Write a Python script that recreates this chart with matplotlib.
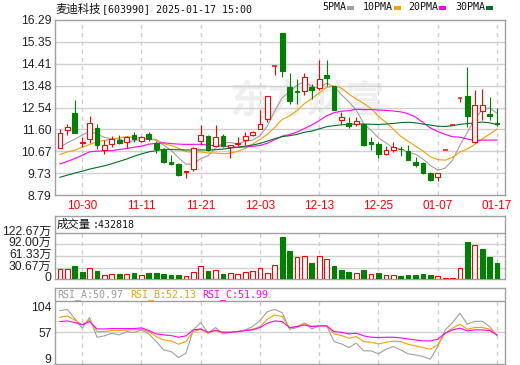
import matplotlib
matplotlib.use('Agg')
import matplotlib.pyplot as plt
import numpy as np
import pandas as pd
from matplotlib.patches import Rectangle
from matplotlib.transforms import ScaledTranslation

# ---------------- data ----------------
stock_name = '麦迪科技'
stock_info = '[603990] 2025-01-17 15:00'
dates = ['2024-10-25', '2024-10-28', '2024-10-29', '2024-10-30', '2024-10-31',
         '2024-11-01', '2024-11-04', '2024-11-05', '2024-11-06', '2024-11-07',
         '2024-11-08', '2024-11-11', '2024-11-12', '2024-11-13', '2024-11-14',
         '2024-11-15', '2024-11-18', '2024-11-19', '2024-11-20', '2024-11-21',
         '2024-11-22', '2024-11-25', '2024-11-26', '2024-11-27', '2024-11-28',
         '2024-11-29', '2024-12-02', '2024-12-03', '2024-12-04', '2024-12-05',
         '2024-12-06', '2024-12-09', '2024-12-10', '2024-12-11', '2024-12-12',
         '2024-12-13', '2024-12-16', '2024-12-17', '2024-12-18', '2024-12-19',
         '2024-12-20', '2024-12-23', '2024-12-24', '2024-12-25', '2024-12-26',
         '2024-12-27', '2024-12-30', '2024-12-31', '2025-01-02', '2025-01-03',
         '2025-01-06', '2025-01-07', '2025-01-08', '2025-01-09', '2025-01-10',
         '2025-01-13', '2025-01-14', '2025-01-15', '2025-01-16', '2025-01-17']
opens = [10.81, 11.59, 12.29, 11.01, 11.20, 11.65, 10.74, 10.97, 11.16, 11.05,
         11.34, 11.11, 11.39, 11.00, 10.78, 10.22, 10.10, 9.76, 9.89, 11.11,
         11.34, 10.90, 11.30, 10.84, 10.98, 11.16, 11.37, 11.63, 12.06, 14.32,
         15.75, 13.42, 13.26, 13.23, 13.42, 13.36, 13.94, 13.45, 12.02, 11.89,
         11.85, 11.85, 11.08, 10.97, 10.53, 10.71, 10.78, 10.68, 10.22, 10.17,
         9.74, 9.55, 10.71, 11.78, 12.96, 13.02, 11.07, 12.41, 12.25, 11.89]
highs = [11.60, 11.85, 12.86, 11.27, 12.19, 11.85, 11.13, 11.33, 11.37, 11.30,
         11.47, 11.33, 11.50, 11.11, 10.80, 10.52, 10.18, 9.81, 10.84, 11.78,
         11.37, 11.78, 11.39, 10.95, 11.26, 11.47, 11.53, 12.42, 13.02, 14.32,
         15.75, 14.03, 13.78, 14.03, 13.55, 14.56, 14.56, 13.48, 12.34, 12.13,
         12.13, 11.85, 11.27, 11.08, 10.87, 11.07, 10.90, 10.93, 10.42, 10.20,
         9.77, 9.74, 10.71, 11.78, 12.96, 14.26, 13.30, 13.33, 12.99, 12.51]
lows = [10.81, 11.36, 11.44, 10.85, 11.04, 10.75, 10.54, 10.84, 10.97, 10.81,
        11.07, 11.08, 11.10, 10.59, 10.15, 10.06, 9.60, 9.51, 9.80, 10.95,
        10.67, 10.90, 10.84, 10.36, 10.87, 10.92, 11.33, 11.63, 11.90, 13.93,
        13.86, 12.70, 12.68, 13.09, 12.90, 13.30, 13.48, 12.44, 11.82, 11.65,
        11.75, 10.90, 10.71, 10.38, 10.51, 10.64, 10.46, 10.28, 9.97, 9.70,
        9.37, 9.37, 10.71, 11.78, 12.77, 11.72, 11.00, 12.01, 12.01, 11.75]
closes = [11.46, 11.69, 11.46, 11.07, 11.89, 10.92, 10.94, 11.17, 11.04, 11.26,
          11.18, 11.29, 11.18, 10.78, 10.20, 10.10, 9.66, 9.81, 10.81, 11.37,
          10.71, 11.29, 10.88, 10.95, 11.04, 11.34, 11.50, 11.82, 13.02, 14.32,
          14.12, 12.80, 13.20, 13.84, 13.28, 13.77, 13.81, 12.44, 12.15, 11.75,
          11.98, 10.95, 10.97, 10.53, 10.71, 10.85, 10.75, 10.28, 10.06, 9.74,
          9.45, 9.74, 10.71, 11.78, 12.96, 12.18, 12.66, 12.63, 12.18, 11.82]
# volume in 万 (10k)
volumes_wan = [27.2, 27.2, 35.9, 20.1, 28.9, 21.9, 11.4, 13.1, 14.0, 14.0,
               17.5, 10.5, 17.5, 17.5, 14.0, 11.4, 11.4, 7.9, 19.3, 34.2,
               21.9, 23.7, 14.0, 16.6, 14.0, 20.1, 21.9, 30.7, 16.6, 36.8,
               111.3, 74.5, 57.8, 61.3, 43.8, 61.3, 52.6, 35.0, 24.5, 20.1,
               15.8, 24.5, 13.1, 17.5, 10.5, 10.5, 8.8, 11.4, 11.4, 14.0,
               11.4, 7.9, 2.6, 2.6, 28.9, 98.1, 90.2, 79.7, 58.7, 43.2818]
latest_volume = 432818

# moving-average values before each window is full
ma5_head = [10.84, 11.03, 11.18, 11.36]
ma10_head = [10.52, 10.64, 10.71, 10.84, 10.95, 11.07, 11.13, 11.18, 11.24]
ma20_head = [10.12, 10.23, 10.35, 10.49, 10.64, 10.67, 10.68, 10.69, 10.74, 10.78,
             10.84, 10.88, 10.97, 11.00, 11.03, 10.99, 10.97, 10.96, 10.96]
ma30_head = [9.55, 9.64, 9.73, 9.81, 9.90, 9.97, 10.04, 10.13, 10.23, 10.33,
             10.45, 10.55, 10.64, 10.69, 10.75, 10.74, 10.73, 10.72, 10.72, 10.72,
             10.72, 10.73, 10.76, 10.80, 10.84, 10.88, 10.93, 11.00, 11.10]

rsi_a = [96.8, 99.0, 82.0, 64.4, 84.0, 47.8, 50.3, 55.2, 52.1, 58.2,
         56.4, 61.3, 53.9, 39.8, 24.5, 21.4, 10.4, 18.4, 61.3, 74.8,
         55.2, 65.6, 53.9, 56.4, 58.2, 61.3, 67.4, 78.5, 95.0, 99.0,
         93.0, 62.5, 65.6, 73.6, 63.1, 68.6, 69.3, 39.8, 35.5, 28.8,
         36.8, 22.7, 22.7, 17.2, 25.7, 30.6, 24.5, 17.2, 15.3, 12.3,
         7.3, 30.6, 61.3, 74.8, 91.9, 71.7, 77.2, 77.2, 67.4, 50.97]
rsi_b = [84.6, 87.0, 79.5, 70.5, 79.7, 58.2, 58.2, 60.1, 60.1, 61.3,
         61.3, 62.5, 58.2, 49.0, 42.9, 41.1, 34.9, 39.8, 58.2, 62.5,
         55.2, 61.3, 57.0, 57.0, 58.2, 60.1, 62.5, 67.4, 80.9, 88.9,
         85.8, 64.4, 67.4, 73.6, 67.4, 69.3, 69.3, 53.9, 50.9, 46.0,
         49.0, 39.8, 38.6, 35.5, 38.6, 40.4, 39.8, 34.9, 31.9, 28.8,
         25.7, 33.7, 55.2, 64.4, 71.7, 62.5, 65.6, 65.6, 62.5, 52.13]
rsi_c = [76.6, 77.8, 74.8, 70.5, 76.6, 63.1, 63.1, 63.7, 63.7, 63.7,
         63.7, 65.0, 60.1, 53.9, 52.1, 50.9, 47.8, 50.3, 61.3, 63.1,
         57.0, 60.1, 57.0, 57.0, 58.2, 60.1, 61.3, 65.6, 73.6, 77.8,
         76.6, 65.6, 67.4, 70.5, 67.4, 68.6, 68.6, 58.2, 57.0, 53.9,
         55.2, 50.3, 47.8, 47.2, 47.8, 47.8, 46.6, 44.7, 42.9, 41.1,
         41.1, 44.1, 55.2, 61.3, 64.4, 59.5, 61.3, 61.3, 60.1, 51.99]

x_tick_dates = ['2024-10-30', '2024-11-11', '2024-11-21', '2024-12-03',
                '2024-12-13', '2024-12-25', '2025-01-07', '2025-01-17']
x_tick_labels = ['10-30', '11-11', '11-21', '12-03', '12-13', '12-25', '01-07', '01-17']
price_tick_labels = ['8.79', '9.73', '10.67', '11.60', '12.54', '13.48', '14.41', '15.35', '16.29']
vol_tick_values = [0, 30.67, 61.33, 92.00, 122.67]
vol_tick_labels = ['0', '30.67万', '61.33万', '92.00万', '122.67万']
rsi_tick_values = [9, 57, 104]
ma_names = ['5PMA', '10PMA', '20PMA', '30PMA']
rsi_names = ['RSI_A', 'RSI_B', 'RSI_C']

# ---------------- styling ----------------
RED = '#ff0000'
GREEN = '#008000'
MA_COLORS = ['#a0a0a0', '#f5a000', '#ff00ff', '#006f28']
RSI_COLORS = ['#a0a0a0', '#f5a000', '#ff00ff']
BORDER = '#a0a0a0'
GRID = '#d0d0d0'
TXT = '#222222'
LAT = 'Liberation Sans'
MONO = 'DejaVu Sans Mono'
CJK = 'Noto Sans CJK SC'
W, H = 520, 365
LW = 0.8

fig = plt.figure(figsize=(W / 100, H / 100), dpi=100)


def fx(px):
    return px / W


def fy(py):
    return 1 - py / H


L, R = 55, 505
ax1 = fig.add_axes([fx(L), fy(195), fx(R) - fx(L), fy(20) - fy(195)])
ax2 = fig.add_axes([fx(L), fy(279.3), fx(R) - fx(L), fy(216) - fy(279.3)])
ax3 = fig.add_axes([fx(L), fy(364), fx(R) - fx(L), fy(288.3) - fy(364)])

n = len(closes)
x = np.arange(n)
xlim = (-0.67, n - 1 + 1.08)
xt = [dates.index(d) for d in x_tick_dates]

for ax in (ax1, ax2, ax3):
    ax.set_xlim(*xlim)
    for s in ax.spines.values():
        s.set_color(BORDER)
        s.set_linewidth(1.0)
    ax.tick_params(length=0)

# ---------------- main price panel ----------------
price_ticks = [float(v) for v in price_tick_labels]
ax1.set_ylim(price_ticks[0], price_ticks[-1])
for v in price_ticks[1:-1]:
    ax1.axhline(v, color=GRID, lw=1.0, zorder=1)
for t in xt:
    ax1.axvline(t, color=GRID, lw=1.0, ls=(0, (3, 3)), zorder=1)
ax1.text(0.56, 0.53, '东方财富', transform=ax1.transAxes, fontsize=28,
         family=CJK, color='#efefef', ha='center', va='center', zorder=0.5,
         fontweight='bold')

bw = 0.64
for i in x:
    o, h, l, c = opens[i], highs[i], lows[i], closes[i]
    up = c >= o
    col = RED if up else GREEN
    ax1.vlines(i, l, h, color=col, lw=LW, zorder=3)
    if abs(c - o) < 1e-9:
        ax1.hlines(o, i - bw / 2, i + bw / 2, color=col, lw=1.1, zorder=4)
    else:
        ax1.add_patch(Rectangle((i - bw / 2, min(o, c)), bw, abs(c - o),
                                facecolor='white' if up else GREEN,
                                edgecolor=col, lw=LW, zorder=4))

cs = pd.Series(closes)
heads = [ma5_head, ma10_head, ma20_head, ma30_head]
for k, (per, head) in enumerate(zip([5, 10, 20, 30], heads)):
    ma = cs.rolling(per).mean().to_numpy()
    ma[:len(head)] = head
    ax1.plot(x, ma, color=MA_COLORS[k], lw=LW, zorder=2.5)

ax1.set_yticks(price_ticks)
ax1.set_yticklabels(price_tick_labels, family=LAT, fontsize=8.7, color=TXT)
ax1.tick_params(axis='y', pad=2.5)
ax1.set_xticks(xt)
ax1.set_xticklabels(x_tick_labels, family=LAT, fontsize=8.5, color=RED)
ax1.tick_params(axis='x', pad=3.5)

# ---------------- volume panel ----------------
vtop = 166.4
ax2.set_ylim(0, vtop)
ax2.axhline(vol_tick_values[-1], color=BORDER, lw=1.0, zorder=2)
for v in vol_tick_values[1:-1]:
    ax2.axhline(v, color=GRID, lw=1.0, zorder=1)
for t in xt:
    ax2.vlines(t, 0, vol_tick_values[-1], color=GRID, lw=1.0,
               linestyles=(0, (3, 3)), zorder=1)
prev = [closes[0]] + closes[:-1]
for i in x:
    vup = closes[i] >= prev[i]
    if vup:
        ax2.add_patch(Rectangle((i - bw / 2, 0), bw, volumes_wan[i],
                                facecolor='white', edgecolor=RED, lw=LW, zorder=3))
    else:
        ax2.add_patch(Rectangle((i - bw / 2, 0), bw, volumes_wan[i],
                                facecolor=GREEN, edgecolor=GREEN, lw=LW, zorder=3))
ax2.set_xticks([])
ax2.set_yticks(vol_tick_values)
ax2.set_yticklabels(vol_tick_labels, family=[LAT, CJK], fontsize=8.7, color=TXT)
ax2.tick_params(axis='y', pad=2.5)
off = ScaledTranslation(0, 0.025, fig.dpi_scale_trans)
for lab in ax2.get_yticklabels():
    lab.set_transform(lab.get_transform() + off)

# ---------------- RSI panel ----------------
ax3.set_ylim(-1.5, 137.9)
ax3.axhline(115.0, color=BORDER, lw=1.0, zorder=2)
ax3.axhline(57, color=GRID, lw=1.0, zorder=1)
for t in xt:
    ax3.vlines(t, -1.5, 115.0, color=GRID, lw=1.0, linestyles=(0, (3, 3)), zorder=1)
for k, series in enumerate([rsi_a, rsi_b, rsi_c]):
    ax3.plot(x, series, color=RSI_COLORS[k], lw=LW, zorder=3)
ax3.set_xticks([])
ax3.set_yticks(rsi_tick_values)
ax3.set_yticklabels([str(v) for v in rsi_tick_values], family=LAT, fontsize=8.7, color=TXT)
ax3.tick_params(axis='y', pad=2.5)

# ---------------- header texts ----------------
fs12 = 12 * 72 / 100   # 12 px
fs10 = 10 * 72 / 100   # 10 px
fig.text(fx(55), fy(9), stock_name, family=CJK, fontsize=fs12 * 0.95, color='#111111',
         ha='left', va='center')
fig.text(fx(102), fy(9), stock_info, family=MONO, fontsize=fs10, color='#111111',
         ha='left', va='center')

legend_x = [322, 363, 408, 455]
for k, name in enumerate(ma_names):
    fig.text(fx(legend_x[k]), fy(7.5), name, family=MONO, fontsize=fs10,
             color='#111111', ha='left', va='center')
    sx = legend_x[k] + 6 * len(name) + 1
    fig.add_artist(Rectangle((fx(sx), fy(9.5)), fx(7) - fx(0), fy(5.5) - fy(9.5),
                             transform=fig.transFigure, facecolor=MA_COLORS[k],
                             edgecolor='none'))

fig.text(fx(57), fy(224.5), '成交量', family=CJK, fontsize=fs12 * 0.95, color='#111111',
         ha='left', va='center')
fig.text(fx(93), fy(224.5), ':' + str(latest_volume), family=MONO, fontsize=fs10,
         color='#111111', ha='left', va='center')

rsi_x = [57, 130, 202]
for k, name in enumerate(rsi_names):
    val = [rsi_a, rsi_b, rsi_c][k][-1]
    fig.text(fx(rsi_x[k]), fy(295), f'{name}:{val:.2f}', family=MONO, fontsize=fs10,
             color=RSI_COLORS[k] if k else '#999999', ha='left', va='center')

fig.savefig('out.png', dpi=100)
